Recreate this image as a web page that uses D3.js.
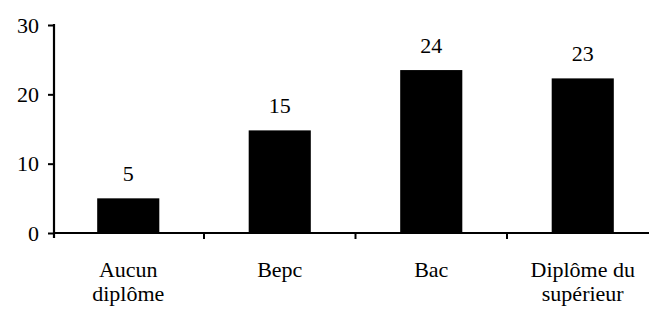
<!DOCTYPE html>
<html>
<head>
<meta charset="utf-8">
<script src="https://cdn.jsdelivr.net/npm/d3@7"></script>
</head>
<body style="margin:0; background:#fff">
<svg id="svg" width="649" height="310"></svg>
<script>
	// data
	var categories = [["Aucun","diplôme"], ["Bepc"], ["Bac"], ["Diplôme du","supérieur"]];
	var values = [5, 14.8, 23.5, 22.3];		// bar heights as drawn
	var valueLabels = ["5", "15", "24", "23"];	// numbers printed above bars
	var yTicks = [0, 10, 20, 30];

	var svg = d3.select("#svg");

	var margin = {left:54, top:25, bottom:233};
	var fontFam = "Liberation Serif";
	var fontSize = '22';

	var x = d3.scaleBand()
		.domain(d3.range(categories.length))
		.range([52.5, 52.5 + 4*151.5])
		.paddingInner(0.59)
		.paddingOuter(0.295);

	var y = d3.scaleLinear().domain([0, 30]).range([margin.bottom, margin.top]);

	function styleText(sel) {
		sel.attr('font-family', fontFam)
			.attr('font-size', fontSize)
			.attr('fill', '#000');
	}

	// bars
	svg.append('g').selectAll('rect')
		.data(values)
		.enter().append('rect')
		.attr('x', (d,i)=>x(i))
		.attr('y', d=>y(d))
		.attr('width', x.bandwidth())
		.attr('height', d=>y(0)-y(d))
		.style('fill','#000');

	// value labels
	svg.append('g').selectAll('text')
		.data(values)
		.enter().append('text')
		.attr('x', (d,i)=>x(i)+x.bandwidth()/2)
		.attr('y', d=>y(d)-17)
		.attr('text-anchor','middle')
		.call(styleText)
		.text((d,i)=>valueLabels[i]);

	// y axis
	var yAxis = svg.append('g')
		.attr('transform','translate(' + margin.left + ',0)')
		.call(d3.axisLeft(y).tickValues(yTicks).tickSize(6).tickSizeOuter(0));
	yAxis.attr('font-family', fontFam).attr('font-size', fontSize);
	yAxis.select('.domain').attr('stroke','#000').attr('stroke-width',2.2).attr('d','M0,' + (margin.bottom+5) + 'V' + (margin.top-1));
	yAxis.selectAll('.tick line').attr('stroke','#000').attr('stroke-width',2);
	yAxis.selectAll('.tick text')
		.attr('x',-15).attr('dy',7)
		.attr('text-anchor','end')
		.call(styleText);

	// x axis line and ticks between categories
	svg.append('line')
		.attr('x1', margin.left).attr('x2', 649)
		.attr('y1', y(0)).attr('y2', y(0))
		.style('stroke','#000').style('stroke-width',2.2);

	svg.append('g').selectAll('line')
		.data(d3.range(1, categories.length))
		.enter().append('line')
		.attr('x1', d=>x.range()[0] + d*x.step())
		.attr('x2', d=>x.range()[0] + d*x.step())
		.attr('y1', y(0)).attr('y2', y(0)+6)
		.style('stroke','#000').style('stroke-width',2);

	// category labels
	var catG = svg.append('g').selectAll('g')
		.data(categories)
		.enter().append('g');
	catG.selectAll('text')
		.data((d,i)=>d.map((t,j)=>({t:t, i:i, j:j})))
		.enter().append('text')
		.attr('x', d=>x(d.i)+x.bandwidth()/2)
		.attr('y', d=>277 + d.j*24)
		.attr('text-anchor','middle')
		.call(styleText)
		.text(d=>d.t);
</script>
</body>
</html>
